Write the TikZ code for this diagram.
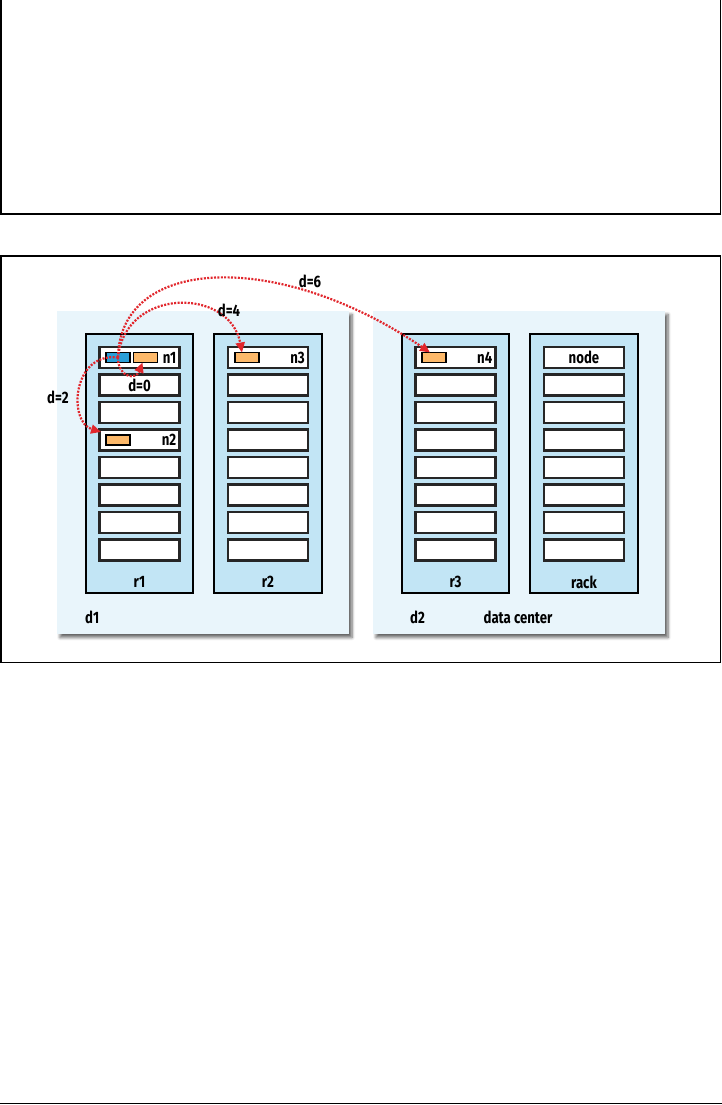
\documentclass[tikz,border=0pt]{standalone}
\usepackage{fontspec}
\setmainfont{Fira Sans}[FakeStretch=0.8]
\usetikzlibrary{shadows.blur,arrows.meta}
\definecolor{panelblue}{HTML}{E9F5FB}
\definecolor{rackblue}{HTML}{C2E5F5}
\definecolor{nodeorange}{HTML}{FDB96A}
\definecolor{nodeblue}{HTML}{2A9FD8}
\definecolor{arrowred}{HTML}{E1262C}
\tikzset{
 panel/.style={fill=panelblue, draw=none, inner sep=0pt, outer sep=0pt, minimum width=292pt, minimum height=323pt, anchor=north west,
   blur shadow={shadow xshift=3pt, shadow yshift=-3.5pt, shadow blur steps=6, shadow blur radius=3pt, shadow opacity=60}},
 rackbox/.style={fill=rackblue, draw=black, line width=2.2pt, inner sep=0pt, outer sep=0pt, minimum width=107.5pt, minimum height=259pt, anchor=north},
 slot/.style={fill=white, draw=black!85, line width=2.2pt, inner sep=0pt, outer sep=0pt, minimum width=80pt, minimum height=21pt},
 chip/.style={draw=black, line width=1.8pt, inner sep=0pt, outer sep=0pt, minimum width=24pt, minimum height=10pt},
 lbl/.style={font=\bfseries\fontsize{16.5}{18}\selectfont, inner sep=0pt},
 link/.style={draw=arrowred, line width=2.2pt, dash pattern=on 2pt off 1.4pt, -{Triangle[length=10pt,width=9pt]}},
 frame/.style={draw=black, line width=1.4pt},
}
\begin{document}
\begin{tikzpicture}[x=1pt,y=-1pt]
\useasboundingbox (0,0) rectangle (722,1105);
% frames
\draw[frame] (1,0) -- (1,214) -- (720.5,214) -- (720.5,0);
\draw[frame] (1,256) rectangle (720.5,662.5);
\draw[frame] (0,1103.5) -- (722,1103.5);
% data centres
\node[panel] (d1) at (57,311) {};
\node[panel] (d2) at (373,311) {};
% racks and slots
\foreach \r/\cx in {r1/139.5, r2/268, r3/455.5, r4/584} {
  \node[rackbox] (\r) at (\cx,334) {};
  \foreach \i in {1,...,8} {
    \node[slot] (\r-\i) at (\cx, {357.5+27.5*(\i-1)}) {};
  }
}
% rack labels
\node[lbl] (r1l) at ([yshift=11pt]r1.south) {r1};
\node[lbl] (r2l) at ([yshift=11pt]r2.south) {r2};
\node[lbl] (r3l) at ([yshift=11pt]r3.south) {r3};
\node[lbl] (r4l) at ([yshift=11pt]r4.south) {rack};
% dc labels
\node[lbl, anchor=west] (d1l) at (85,617) {d1};
\node[lbl, anchor=west] (d2l) at (410,617) {d2};
\node[lbl] (dcl) at (518,617) {data center};
% chips
\node[chip, fill=nodeblue] (bl) at (118,357.5) {};
\node[chip, fill=nodeorange] (o1) at (145.5,357.5) {};
\node[chip, fill=nodeorange] (o2) at (118,440) {};
\node[chip, fill=nodeorange] (o3) at (247,357.5) {};
\node[chip, fill=nodeorange] (o4) at (434,357.5) {};
% slot labels
\node[lbl, anchor=east] (n1) at ([xshift=-3pt]r1-1.east) {n1};
\node[lbl, anchor=east] (n2) at ([xshift=-3pt]r1-4.east) {n2};
\node[lbl, anchor=east] (n3) at ([xshift=-3pt]r2-1.east) {n3};
\node[lbl, anchor=east] (n4) at ([xshift=-3pt]r3-1.east) {n4};
\node[lbl] (d0) at (r1-2) {d=0};
\node[lbl] (nd) at (r4-1) {node};
% links
\draw[link] (bl.center) .. controls (118,378) and (136,380) .. ([xshift=-3pt]o1.south);
\draw[link] (bl.center) .. controls (72,352) and (68,422) .. ([xshift=-5pt,yshift=3pt]o2.north west);
\draw[link] (bl.center) .. controls (125,287) and (230,287) .. ([xshift=-5pt]o3.north);
\draw[link] (bl.center) .. controls (120,255) and (280,250) .. ([xshift=-4pt]o4.north);
% link labels
\node[lbl] (l2) at (58,397) {d=2};
\node[lbl] (l4) at (229,310) {d=4};
\node[lbl] (l6) at (310,281) {d=6};
\end{tikzpicture}
\end{document}
